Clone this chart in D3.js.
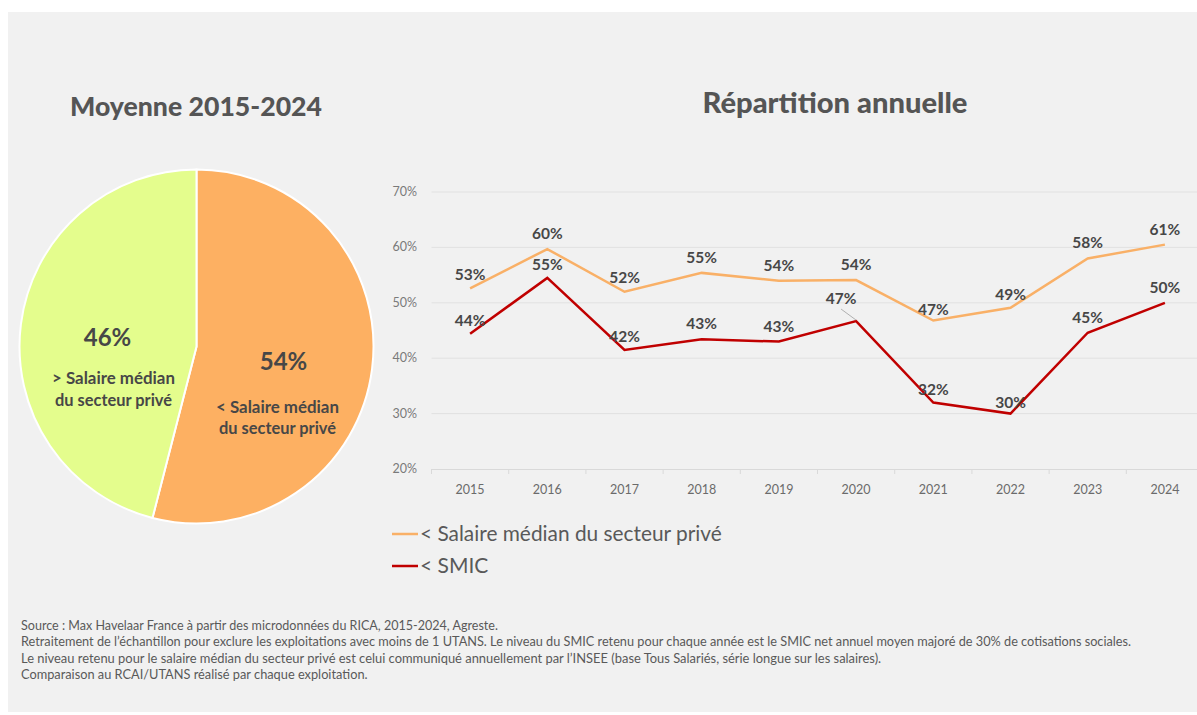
<!DOCTYPE html>
<html>
<head>
<meta charset="utf-8">
<script src="https://cdn.jsdelivr.net/npm/d3@7"></script>
<style>
  body { margin: 0; background: #fff; }
  svg { display: block; font-family: Lato, "Open Sans", sans-serif; }
</style>
</head>
<body>
<svg width="1197" height="715"></svg>
<script>
// data
const years = ['2015', '2016', '2017', '2018', '2019', '2020', '2021', '2022', '2023', '2024'];
const medianValues = [52.6, 59.7, 52.0, 55.4, 54.0, 54.1, 46.8, 49.1, 58.0, 60.5];
const smicValues = [44.4, 54.5, 41.5, 43.4, 43.0, 46.7, 32.0, 30.0, 44.6, 50.0];
const yTicks = [20, 30, 40, 50, 60, 70];
const pieLabels = ['< Salaire médian du secteur privé', '> Salaire médian du secteur privé'];
const pieValues = [54, 46];
const footnotes = [
  'Source : Max Havelaar France à partir des microdonnées du RICA, 2015-2024, Agreste.',
  'Retraitement de l\u2019échantillon pour exclure les exploitations avec moins de 1 UTANS. Le niveau du SMIC retenu pour chaque année est le SMIC net annuel moyen majoré de 30% de cotisations sociales.',
  'Le niveau retenu pour le salaire médian du secteur privé est celui communiqué annuellement par l\u2019INSEE (base Tous Salariés, série longue sur les salaires).',
  'Comparaison au RCAI/UTANS réalisé par chaque exploitation.'
];

const svg = d3.select('svg');
const orange = '#f9b067';
const red = '#c00000';
const textDark = '#474747';

// scale a text node's font so it spans a given width
function fit(sel, w) {
  const n = sel.node();
  const len = n.getComputedTextLength();
  const fs = parseFloat(sel.attr('font-size'));
  sel.attr('font-size', fs * w / len);
}

// panel
svg.append('rect')
  .attr('x', 8).attr('y', 12)
  .attr('width', 1189).attr('height', 700)
  .attr('fill', '#f1f1f1');

// titles
svg.append('text')
  .attr('x', 196).attr('y', 116)
  .attr('text-anchor', 'middle')
  .attr('font-size', 27).attr('font-weight', 900)
  .attr('fill', '#555')
  .text('Moyenne 2015-2024')
  .call(fit, 252);

svg.append('text')
  .attr('x', 835).attr('y', 113)
  .attr('text-anchor', 'middle')
  .attr('font-size', 27).attr('font-weight', 900)
  .attr('fill', '#555')
  .text('Répartition annuelle')
  .call(fit, 265);

// pie
const cx = 196.5, cy = 346.5, r = 177;
const pie = d3.pie().sort(null).value(d => d)(pieValues);
const arc = d3.arc().innerRadius(0).outerRadius(r);
const pieG = svg.append('g').attr('transform', `translate(${cx},${cy})`);
pieG.selectAll('path')
  .data(pie)
  .join('path')
  .attr('d', arc)
  .attr('fill', (d, i) => i === 0 ? '#fdb062' : '#e4fd8d')
  .attr('stroke', '#fff')
  .attr('stroke-width', 2);

// pie labels: [dx, dy, line1 dx, line1 y, line2 y]
const pieLabelPos = [[87, 15, -6, 51, 72], [-89, -9, 6, 46.5, 68.5]];
pie.forEach((d, i) => {
  const [dx, dy, ldx, l1, l2] = pieLabelPos[i];
  const g = pieG.append('g').attr('transform', `translate(${dx},${dy})`);
  g.append('text')
    .attr('text-anchor', 'middle')
    .attr('y', 8.5)
    .attr('font-size', 24).attr('font-weight', 700)
    .attr('fill', textDark)
    .text(pieValues[i] + '%');
  const words = pieLabels[i].split(' ');
  const line1 = words.slice(0, 3).join(' ');
  const line2 = words.slice(3).join(' ');
  g.append('text').attr('text-anchor', 'middle').attr('x', ldx).attr('y', l1)
    .attr('font-size', 17).attr('font-weight', 700).attr('fill', textDark)
    .text(line1).call(fit, 123);
  g.append('text').attr('text-anchor', 'middle').attr('x', ldx).attr('y', l2)
    .attr('font-size', 17).attr('font-weight', 700).attr('fill', textDark)
    .text(line2).call(fit, 117);
});

// line chart
const x = d3.scaleBand().domain(years).range([431.5, 1203.5]);
const y = d3.scaleLinear().domain([20, 70]).range([469, 192]);

svg.append('g')
  .selectAll('line')
  .data(yTicks.slice(1))
  .join('line')
  .attr('x1', 431.5).attr('x2', 1197)
  .attr('y1', d => y(d)).attr('y2', d => y(d))
  .attr('stroke', '#e1e1e1');

svg.append('g')
  .selectAll('text')
  .data(yTicks)
  .join('text')
  .attr('x', 417).attr('y', d => y(d) + 4)
  .attr('text-anchor', 'end')
  .attr('font-size', 12.5)
  .attr('fill', '#7a7a7a')
  .text(d => d + '%');

const xAxis = svg.append('g')
  .attr('transform', `translate(0,${y(20)})`)
  .call(d3.axisBottom(x).tickSize(0).tickPadding(16));
xAxis.select('.domain').attr('stroke', '#d9d9d9');
xAxis.selectAll('text').attr('font-size', 12.5).attr('fill', '#6b6b6b')
  .attr('font-family', 'Lato, sans-serif');
xAxis.selectAll('.edge')
  .data(years)
  .join('line')
  .attr('x1', d => x(d)).attr('x2', d => x(d))
  .attr('y1', 0).attr('y2', 5)
  .attr('stroke', '#d9d9d9');

const line = d3.line()
  .x((d, i) => x(years[i]) + x.bandwidth() / 2)
  .y(d => y(d));

svg.append('path')
  .attr('d', line(medianValues))
  .attr('fill', 'none')
  .attr('stroke', orange)
  .attr('stroke-width', 2.5);

svg.append('path')
  .attr('d', line(smicValues))
  .attr('fill', 'none')
  .attr('stroke', red)
  .attr('stroke-width', 2.5);

// data labels
function labels(values, offsets) {
  svg.append('g')
    .selectAll('text')
    .data(values)
    .join('text')
    .attr('x', (d, i) => x(years[i]) + x.bandwidth() / 2 + offsets[i][0])
    .attr('y', (d, i) => y(d) - 8 + offsets[i][1])
    .attr('text-anchor', 'middle')
    .attr('font-size', 15.5).attr('font-weight', 700)
    .attr('fill', textDark)
    .text(d => Math.round(d) + '%');
}
labels(medianValues, [[0, 0], [0, -2], [0, -1], [0, -2], [0, -2], [0, -2], [0, 2], [0, 0], [0, -2], [0, -2]]);
labels(smicValues, [[0, 0], [0, 0], [0, 0], [0, -2], [0, -2], [-15, -9], [0, 0], [0, 2], [0, -2], [0, -2]]);

// leader line for 2020
svg.append('line')
  .attr('x1', x('2020') + x.bandwidth() / 2 - 15).attr('y1', y(46.7) - 12)
  .attr('x2', x('2020') + x.bandwidth() / 2).attr('y2', y(46.7) - 1)
  .attr('stroke', '#b0b0b0');

// legend
const legend = svg.append('g').attr('transform', 'translate(392,534)');
[['< Salaire médian du secteur privé', orange], ['< SMIC', red]].forEach(([label, c], i) => {
  legend.append('line')
    .attr('x1', 0).attr('x2', 26)
    .attr('y1', i * 32).attr('y2', i * 32)
    .attr('stroke', c).attr('stroke-width', 2.5);
  const t = legend.append('text')
    .attr('x', 28).attr('y', i * 32 + 7)
    .attr('font-size', 21)
    .attr('fill', '#595959')
    .text(label);
  if (i === 0) t.call(fit, 302);
});

// footnotes
const footWidths = [477, 1111, 861, 347];
svg.append('g')
  .selectAll('text')
  .data(footnotes)
  .join('text')
  .attr('x', 21)
  .attr('y', (d, i) => 630 + i * 16.3)
  .attr('font-size', 12.5)
  .attr('fill', '#595959')
  .text(d => d)
  .each(function (d, i) {
    d3.select(this).call(fit, footWidths[i]);
  });
</script>
</body>
</html>
